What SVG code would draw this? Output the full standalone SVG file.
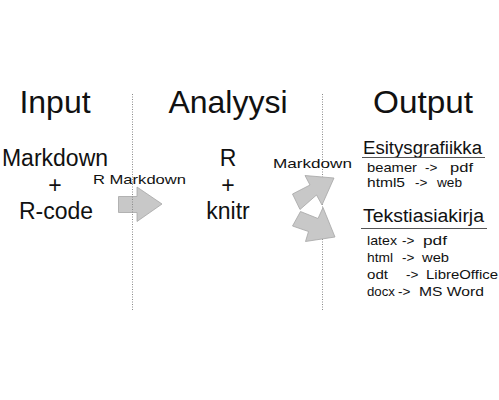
<svg xmlns="http://www.w3.org/2000/svg" width="499" height="400" viewBox="0 0 499 400">
<style>
text{font-family:"Liberation Sans",Arial,sans-serif;fill:#111}
.title{font-size:32px;text-anchor:middle}
.big{font-size:23px;text-anchor:middle}
.lbl{font-size:13.5px}
.head{font-size:18px}
.item{font-size:13.5px}
.sep{stroke:#8a8a8a;stroke-width:1;stroke-dasharray:1,1.5;fill:none}
.rule{stroke:#555;stroke-width:1;fill:none}
.arrow{fill:#c8c8c8;stroke:#a6a6a6;stroke-width:0.8;stroke-linejoin:miter}
</style>
<rect width="499" height="400" fill="#fff"/>
<g id="separators">
<line class="sep" x1="322.5" y1="94" x2="322.5" y2="311"/>
</g>
<g id="input">
<text class="title" x="55" y="113">Input</text>
<text class="big" x="55" y="166">Markdown</text>
<text class="big" x="55" y="193">+</text>
<text class="big" x="56" y="219">R-code</text>
</g>
<g id="analyysi">
<text class="title" x="228" y="113">Analyysi</text>
<text class="big" x="228" y="166">R</text>
<text class="big" x="228" y="193">+</text>
<text class="big" x="228" y="219">knitr</text>
</g>
<g id="output">
<text class="title" x="423" y="113" textLength="100" lengthAdjust="spacingAndGlyphs">Output</text>
</g>
<g id="esitysgrafiikka">
<text class="head" x="363" y="154" textLength="119" lengthAdjust="spacingAndGlyphs">Esitysgrafiikka</text>
<line class="rule" x1="362" y1="157.5" x2="485" y2="157.5"/>
<text class="item" x="367" y="172" textLength="50" lengthAdjust="spacingAndGlyphs">beamer</text>
<text class="item" x="425" y="172">-&gt;</text>
<text class="item" x="450" y="172" textLength="23" lengthAdjust="spacingAndGlyphs">pdf</text>
<text class="item" x="367" y="187" textLength="38" lengthAdjust="spacingAndGlyphs">html5</text>
<text class="item" x="415" y="187">-&gt;</text>
<text class="item" x="437" y="187" textLength="25" lengthAdjust="spacingAndGlyphs">web</text>
</g>
<g id="tekstiasiakirja">
<text class="head" x="363" y="222" textLength="121" lengthAdjust="spacingAndGlyphs">Tekstiasiakirja</text>
<line class="rule" x1="361" y1="228.5" x2="487" y2="228.5"/>
<text class="item" x="367" y="245" textLength="30" lengthAdjust="spacingAndGlyphs">latex</text>
<text class="item" x="402" y="245">-&gt;</text>
<text class="item" x="423" y="245" textLength="24" lengthAdjust="spacingAndGlyphs">pdf</text>
<text class="item" x="367" y="262" textLength="26" lengthAdjust="spacingAndGlyphs">html</text>
<text class="item" x="402" y="262">-&gt;</text>
<text class="item" x="422" y="262" textLength="27" lengthAdjust="spacingAndGlyphs">web</text>
<text class="item" x="367" y="279" textLength="21" lengthAdjust="spacingAndGlyphs">odt</text>
<text class="item" x="406" y="279">-&gt;</text>
<text class="item" x="426" y="279" textLength="72" lengthAdjust="spacingAndGlyphs">LibreOffice</text>
<text class="item" x="367" y="296" textLength="28" lengthAdjust="spacingAndGlyphs">docx</text>
<text class="item" x="398" y="296">-&gt;</text>
<text class="item" x="419" y="296" textLength="65" lengthAdjust="spacingAndGlyphs">MS Word</text>
</g>
<g id="connectors">
<polygon class="arrow" points="118.5,196.5 137,196.5 137,187 162,204 137,221.5 137,212.5 118.5,212.5"/>
<text class="lbl" x="93" y="183.5" textLength="93" lengthAdjust="spacingAndGlyphs">R Markdown</text>
<polygon class="arrow" points="292.5,194 310,185 305,175.5 334,178 322,205 316.5,195 300,209.5"/>
<polygon class="arrow" points="300.5,211.5 318,218.5 323,207.5 335,237 305.5,241.5 308.5,231.5 292.5,226"/>
<text class="lbl" x="273" y="167.5" textLength="79" lengthAdjust="spacingAndGlyphs">Markdown</text>
</g>
<g id="separator-left">
<line class="sep" x1="132.5" y1="94" x2="132.5" y2="311"/>
</g>
</svg>
